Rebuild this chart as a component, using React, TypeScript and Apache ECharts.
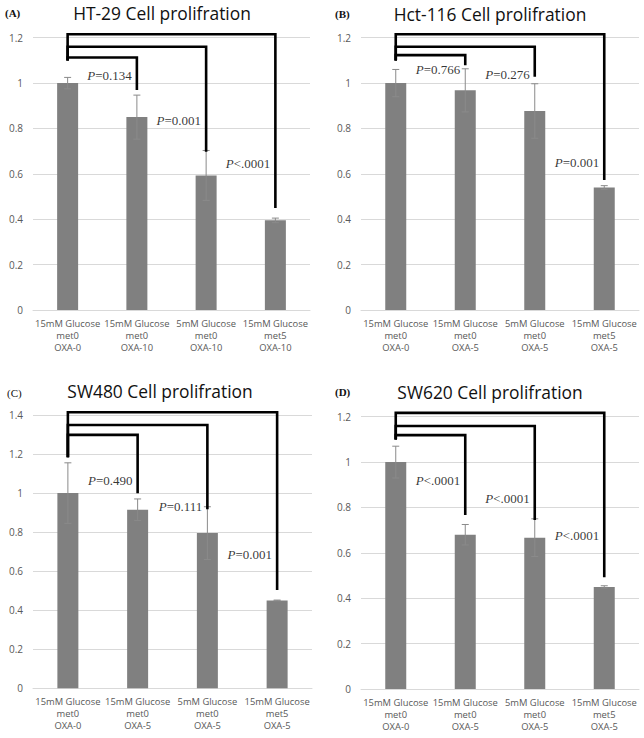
import React, { useEffect, useRef } from "react";
import * as echarts from "echarts";

const categoriesA = [
  "15mM Glucose\nmet0\nOXA-0",
  "15mM Glucose\nmet0\nOXA-10",
  "5mM Glucose\nmet0\nOXA-10",
  "15mM Glucose\nmet5\nOXA-10",
];
const categoriesBCD = [
  "15mM Glucose\nmet0\nOXA-0",
  "15mM Glucose\nmet0\nOXA-5",
  "5mM Glucose\nmet0\nOXA-5",
  "15mM Glucose\nmet5\nOXA-5",
];

const panelLetters = ["(A)", "(B)", "(C)", "(D)"];
const panelTitles = [
  "HT-29 Cell prolifration",
  "Hct-116 Cell prolifration",
  "SW480 Cell prolifration",
  "SW620 Cell prolifration",
];

const meanA = [1.0, 0.85, 0.593, 0.395];
const errA = [0.025, 0.097, 0.11, 0.01];
const meanB = [1.0, 0.968, 0.877, 0.54];
const errB = [0.06, 0.095, 0.12, 0.008];
const meanC = [1.0, 0.915, 0.795, 0.45];
const errC = [0.155, 0.055, 0.135, 0.002];
const meanD = [1.0, 0.68, 0.667, 0.45];
const errD = [0.07, 0.045, 0.083, 0.005];

const yMax = [1.2, 1.2, 1.4, 1.2];
const yInterval = 0.2;

// brackets: from bar 0 to bars 1,2,3
const bracketBase = [1.1, 1.1, 1.183, 1.1];
const bracketLevelsA = [1.113, 1.16, 1.215];
const bracketEndsA = [0.969, 0.697, 0.449];
const bracketLevelsB = [1.123, 1.16, 1.215];
const bracketEndsB = [1.079, 1.028, 0.573];
const bracketLevelsC = [1.298, 1.349, 1.414];
const bracketEndsC = [0.999, 0.917, 0.503];
const bracketLevelsD = [1.119, 1.159, 1.217];
const bracketEndsD = [0.767, 0.745, 0.492];

const pTextsA = ["=0.134", "=0.001", "<.0001"];
const pYA = [1.035, 0.837, 0.647];
const pTextsB = ["=0.766", "=0.276", "=0.001"];
const pYB = [1.06, 1.04, 0.652];
const pTextsC = ["=0.490", "=0.111", "=0.001"];
const pYC = [1.067, 0.93, 0.683];
const pTextsD = ["<.0001", "<.0001", "<.0001"];
const pYD = [0.921, 0.84, 0.678];

const categories = [categoriesA, categoriesBCD, categoriesBCD, categoriesBCD];
const means = [meanA, meanB, meanC, meanD];
const errs = [errA, errB, errC, errD];
const bracketLevels = [bracketLevelsA, bracketLevelsB, bracketLevelsC, bracketLevelsD];
const bracketEnds = [bracketEndsA, bracketEndsB, bracketEndsC, bracketEndsD];
const pTexts = [pTextsA, pTextsB, pTextsC, pTextsD];
const pYs = [pYA, pYB, pYC, pYD];

const grids = [
  { left: 33, top: 37.7, width: 277, height: 272.3 },
  { left: 361, top: 37.7, width: 278, height: 272.3 },
  { left: 33, top: 415, width: 279, height: 273.3 },
  { left: 361, top: 416.7, width: 278, height: 272.3 },
];
const titlePos = [
  [162, 13],
  [490, 14],
  [160, 391],
  [490, 392],
];
const letterPos = [
  [5, 13],
  [335, 14],
  [7, 393],
  [335, 392],
];

const SANS = "'Open Sans', 'Noto Sans', sans-serif";
const SERIF = "'Liberation Serif', 'DejaVu Serif', serif";

export default function App() {
  const ref = useRef<HTMLDivElement>(null);
  useEffect(() => {
    if (!ref.current) return;
    const chart = echarts.init(ref.current, undefined, { renderer: "svg" });
    const series: any[] = [];
    for (let i = 0; i < 4; i++) {
      series.push({
        type: "bar",
        xAxisIndex: i,
        yAxisIndex: i,
        data: means[i],
        barWidth: 21,
        itemStyle: { color: "#808080" },
        silent: true,
      });
      series.push({
        type: "custom",
        xAxisIndex: i,
        yAxisIndex: i,
        clip: false,
        silent: true,
        z: 5,
        data: means[i].map((m, k) => [k, m - errs[i][k], m + errs[i][k]]),
        renderItem: (params: any, api: any) => {
          const lo = api.coord([api.value(0), api.value(1)]);
          const hi = api.coord([api.value(0), api.value(2)]);
          const style = { stroke: "#8a8a8a", lineWidth: 1 };
          return {
            type: "group",
            children: [
              { type: "line", shape: { x1: hi[0], y1: hi[1], x2: lo[0], y2: lo[1] }, style },
              { type: "line", shape: { x1: hi[0] - 3.5, y1: hi[1], x2: hi[0] + 3.5, y2: hi[1] }, style },
              { type: "line", shape: { x1: lo[0] - 3.5, y1: lo[1], x2: lo[0] + 3.5, y2: lo[1] }, style },
            ],
          };
        },
      });
      series.push({
        type: "custom",
        xAxisIndex: i,
        yAxisIndex: i,
        clip: false,
        silent: true,
        z: 6,
        data: bracketLevels[i].map((lv, k) => [k + 1, lv, bracketEnds[i][k], bracketBase[i]]),
        renderItem: (params: any, api: any) => {
          const t = api.value(0);
          const lv = api.value(1);
          const end = api.value(2);
          const base = api.value(3);
          const p0 = api.coord([0, base]);
          const p1 = api.coord([0, lv]);
          const p2 = api.coord([t, lv]);
          const p3 = api.coord([t, end]);
          return {
            type: "polyline",
            shape: { points: [p0, p1, p2, p3] },
            style: { stroke: "#000", lineWidth: 2.6, fill: "none", lineJoin: "miter" },
          };
        },
      });
      series.push({
        type: "scatter",
        xAxisIndex: i,
        yAxisIndex: i,
        symbolSize: 0,
        silent: true,
        z: 7,
        itemStyle: { color: "#000" },
        data: pYs[i].map((y, k) => ({ value: [k + 1, y], txt: pTexts[i][k] })),
        label: {
          show: true,
          position: "left",
          distance: 5,
          formatter: (p: any) => "{i|P}{n|" + p.data.txt + "}",
          fontFamily: SERIF,
          fontSize: 13,
          color: "#000",
          rich: {
            i: { fontStyle: "italic", fontFamily: SERIF, fontSize: 13, color: "#000" },
            n: { fontFamily: SERIF, fontSize: 13, color: "#000" },
          },
        },
      });
    }
    const graphics: any[] = [];
    for (let i = 0; i < 4; i++) {
      graphics.push({
        type: "text",
        x: titlePos[i][0],
        y: titlePos[i][1],
        style: {
          text: panelTitles[i],
          font: `17.4px ${SANS}`,
          fill: "#111",
          textAlign: "center",
          textVerticalAlign: "middle",
        },
      });
      graphics.push({
        type: "text",
        x: letterPos[i][0],
        y: letterPos[i][1],
        style: {
          text: panelLetters[i],
          font: `${i === 2 ? "normal" : "bold"} 11px ${SERIF}`,
          fill: "#111",
          textAlign: "left",
          textVerticalAlign: "middle",
        },
      });
    }
    chart.setOption({
      animation: false,
      grid: grids.map((g) => ({ ...g, containLabel: false })),
      xAxis: grids.map((_, i) => ({
        type: "category",
        gridIndex: i,
        data: categories[i],
        axisTick: { show: false },
        axisLine: { show: true, lineStyle: { color: "#d9d9d9", width: 1 } },
        axisLabel: {
          interval: 0,
          fontSize: 9.4,
          lineHeight: 12,
          color: "#595959",
          fontFamily: SANS,
          margin: 7,
        },
      })),
      yAxis: grids.map((_, i) => ({
        type: "value",
        gridIndex: i,
        min: 0,
        max: yMax[i],
        interval: yInterval,
        axisLine: { show: false },
        axisTick: { show: false },
        splitLine: { lineStyle: { color: "#d9d9d9", width: 1 } },
        axisLabel: { fontSize: 10, color: "#595959", fontFamily: SANS, margin: 10 },
      })),
      series,
      graphic: graphics,
    });
    return () => chart.dispose();
  }, []);
  return (
    <div
      ref={ref}
      style={{ position: "absolute", left: 0, top: 0, width: 644, height: 738, background: "#fff" }}
    />
  );
}
